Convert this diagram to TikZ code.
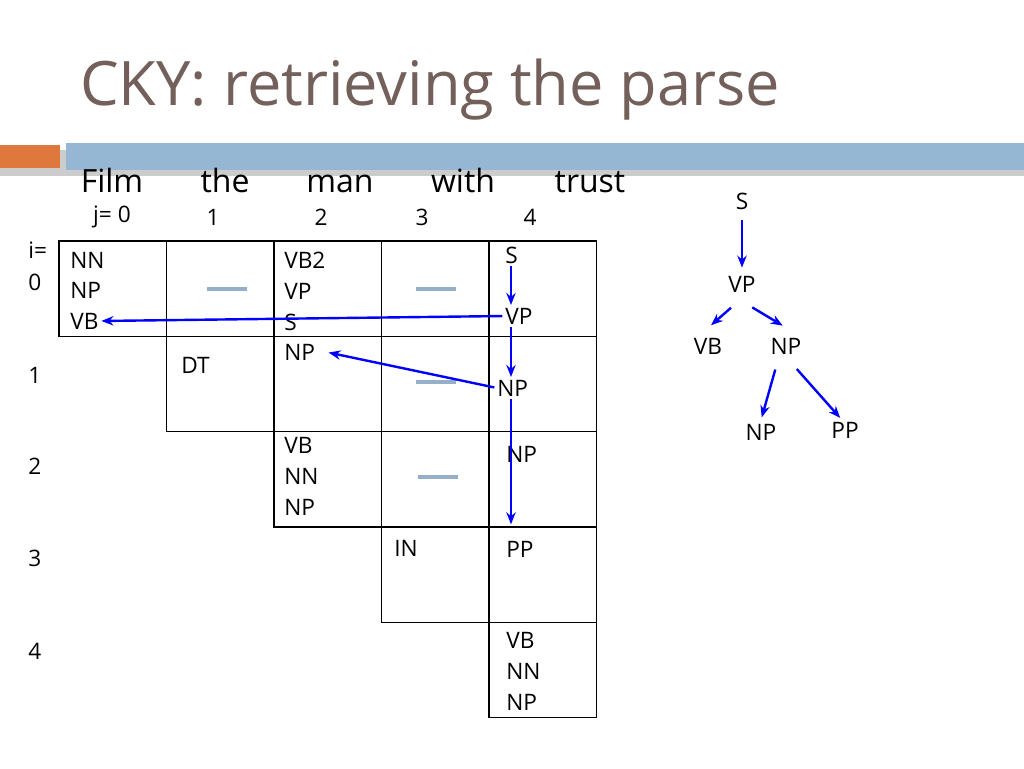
\documentclass[tikz,border=0pt]{standalone}
\usepackage{fontspec}
\setmainfont{Open Sans}
\usetikzlibrary{arrows.meta}
\definecolor{titlegray}{RGB}{115,96,90}
\definecolor{barblue}{RGB}{150,183,212}
\definecolor{barorange}{RGB}{222,120,60}
\definecolor{dashblue}{RGB}{150,175,200}
\tikzset{
  cell/.style={draw,line width=0.9pt},
  lab/.style={anchor=west,inner sep=0pt,font=\fontsize{17}{19}\selectfont},
  word/.style={anchor=base,inner sep=0pt,font=\fontsize{24}{26}\selectfont},
  idx/.style={inner sep=0pt,font=\fontsize{17}{19}\selectfont},
  emptymark/.style={dashblue,line width=3pt},
  back/.style={-{Stealth[length=9pt,width=7pt]},blue,line width=1.8pt,shorten <=2pt,shorten >=2pt}
}
\begin{document}
\begin{tikzpicture}[x=0.75pt,y=-0.75pt]
\useasboundingbox (0,0) rectangle (1024,768);

\node[anchor=base west,inner sep=0pt,titlegray,font=\fontsize{46}{50}\selectfont] (title) at (80,105) {CKY: retrieving the parse};
\fill[black!20] (0,150) rectangle (1024,176);
\fill[barorange] (0,145) rectangle (60,168);
\fill[barblue] (66,143) rectangle (1024,170);

% words and indices
\foreach \w/\x in {Film/112,the/225,man/340,with/463,trust/590}
  \node[word] (w\w) at (\x,192) {\w};
\node[idx] (j0) at (112,217) {j= 0};
\foreach \j/\x in {1/213,2/321,3/422,4/530}
  \node[idx] (j\j) at (\x,217) {\j};
\node[idx,anchor=west] (ieq) at (28,250) {i=};
\node[idx,anchor=west] (i0) at (28,282) {0};
\foreach \i/\y in {1/375,2/466,3/558,4/651}
  \node[idx,anchor=west] (i\i) at (28,\y) {\i};

% chart cells
\foreach \i in {0,...,4}
  \foreach \j in {\i,...,4}
    \draw[cell] ({59+107.5*\j},{241+95.3*\i}) rectangle ++(107.5,95.3);

% cell contents
\node[lab] (nn00) at (70,260) {NN};
\node[lab] (np00) at (70,290) {NP};
\node[lab] (vb00) at (70,321) {VB};
\node[lab] (vb02) at (284,260) {VB2};
\node[lab] (vp02) at (284,291) {VP};
\node[lab] (s02) at (284,322) {S};
\node[lab] (np02) at (284,352) {NP};
\node[lab] (s04) at (505,255) {S};
\node[lab] (vp04) at (505,316) {VP};
\node[lab] (dt11) at (181,365) {DT};
\node[lab] (np14) at (497,388) {NP};
\node[lab] (vb22) at (284,445) {VB};
\node[lab] (nn22) at (284,476) {NN};
\node[lab] (np22) at (284,507) {NP};
\node[lab] (np24) at (506,454) {NP};
\node[lab] (in33) at (394,548) {IN};
\node[lab] (pp34) at (506,549) {PP};
\node[lab] (vb44) at (506,640) {VB};
\node[lab] (nn44) at (506,671) {NN};
\node[lab] (np44) at (506,702) {NP};
\foreach \x/\y in {227/289,436/289,436/382,438/477}
  \draw[emptymark] (\x-20,\y) -- (\x+20,\y);

% back pointers
\coordinate (pp34top) at (511,527);
\draw[back] (s04.south-|511,0) -- (vp04.north-|511,0);
\draw[back] (vp04.west) -- (vb00.east);
\draw[back] (vp04.south-|511,0) -- (np14.north-|511,0);
\draw[back] (np14.west) -- ([xshift=8pt]np02.east);
\draw[back] (np14.south-|511,0) -- (pp34top);

% tree
\node[lab,anchor=center] (tS) at (742,201) {S};
\node[lab,anchor=center] (tVP) at (742,284) {VP};
\node[lab,anchor=center] (tVB) at (708,346) {VB};
\node[lab,anchor=center] (tNP) at (786,346) {NP};
\node[lab,anchor=center] (tNP2) at (761,432) {NP};
\node[lab,anchor=center] (tPP) at (845,430) {PP};
\draw[back] ([yshift=-6pt]tS.south) -- ([yshift=4pt]tVP.north);
\draw[back] (733,306) -- (709,327);
\draw[back] (750,306) -- (785,327);
\draw[back] (776,367) -- (761,420);
\draw[back] (795,367) -- (842,420);
\end{tikzpicture}
\end{document}
